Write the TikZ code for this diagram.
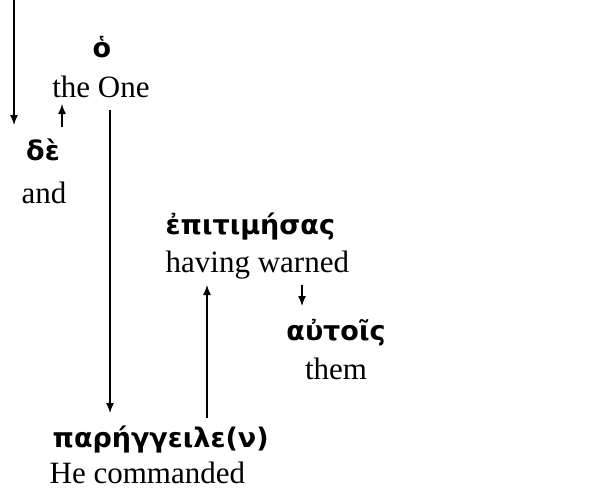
\documentclass[tikz,border=0pt]{standalone}
\usepackage{fontspec}
\usetikzlibrary{arrows.meta}
\setmainfont{Liberation Serif}
\newfontfamily\greekfont{DejaVu Sans}

\begin{document}
\begin{tikzpicture}[x=1pt,y=-1pt,>={Latex[length=10pt,width=8pt]},line width=1.3pt]
        \tikzset{greek/.style={font=\greekfont\bfseries\fontsize{27}{31}\selectfont, inner sep=0pt},
                 gloss/.style={font=\fontsize{31}{36}\selectfont, inner sep=0pt}}
        \useasboundingbox (0,0) rectangle (605,493);

        % the One
        \node[greek] (ho) at (102,47) {ὁ};
        \node[gloss] (theone) at (101,87) {the One};

        % and
        \node[greek] (de) at (43,150) {δὲ};
        \node[gloss] (and) at (44,193) {and};

        % having warned
        \node[greek, anchor=west] (epitimesas) at (165,227) {ἐπιτιμήσας};
        \node[gloss, anchor=west] (warned) at (165,265) {having warned};

        % them
        \node[greek] (autois) at (336,333) {αὐτοῖς};
        \node[gloss] (them) at (336,369) {them};

        % He commanded
        \node[greek, anchor=west] (pareggeile) at (52,440) {παρήγγειλε(ν)};
        \node[gloss, anchor=west] (commanded) at (49,473) {He commanded};

        %coordinates for arrows
        \coordinate (topin) at (14,0);
        \coordinate (topout) at (14,125);
        \coordinate (defrom) at (62,127);
        \coordinate (deto) at (62,104);
        \coordinate (onefrom) at (110,110);
        \coordinate (oneto) at (110,413);
        \coordinate (cmdfrom) at (207,418);
        \coordinate (cmdto) at (207,285);
        \coordinate (warnfrom) at (302,285);
        \coordinate (warnto) at (302,306);

        % arrows
        \draw[->] (topin) -- (topout);
        \draw[->] (defrom) -- (deto);
        \draw[->] (onefrom) -- (oneto);
        \draw[->] (cmdfrom) -- (cmdto);
        \draw[->] (warnfrom) -- (warnto);
\end{tikzpicture}
\end{document}
